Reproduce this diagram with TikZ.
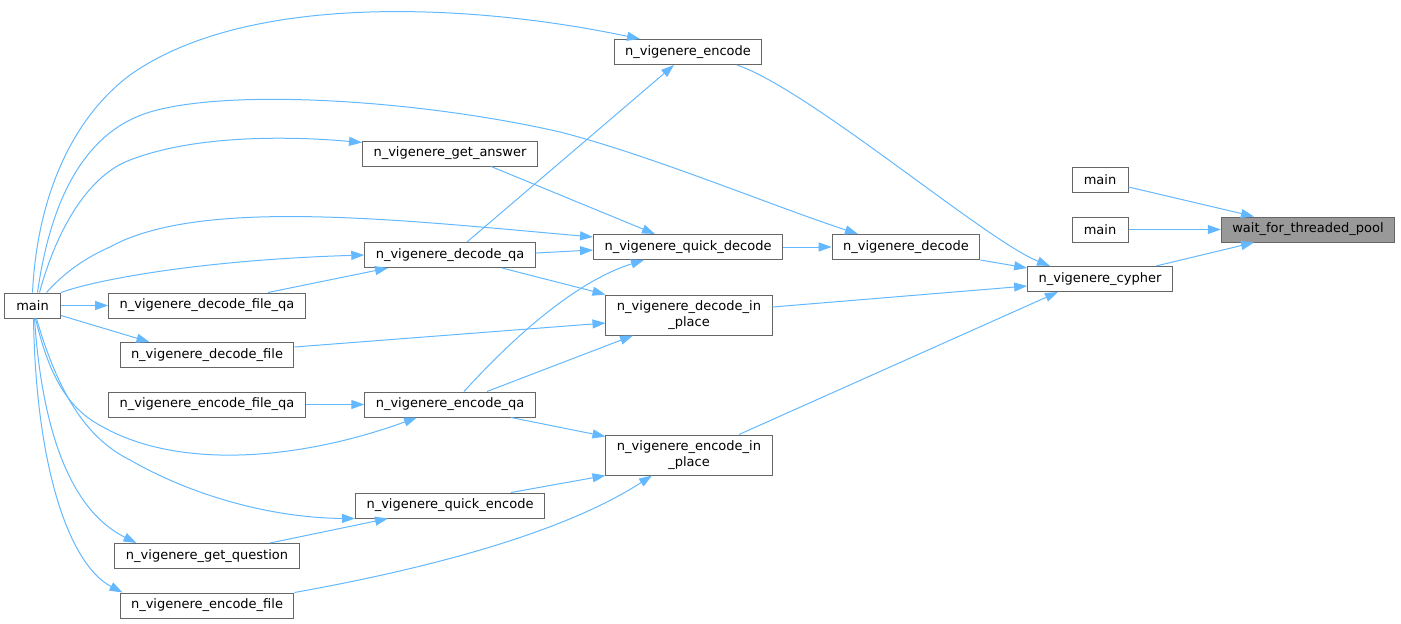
\documentclass[tikz,border=0pt]{standalone}
\usepackage{fontspec}
\setmainfont{DejaVu Sans}
\usetikzlibrary{arrows.meta}
\definecolor{edgeblue}{HTML}{63B8FF}
\definecolor{boxgray}{HTML}{666666}
\definecolor{fillgray}{HTML}{999999}
\begin{document}
\begin{tikzpicture}[x=1pt,y=-1pt]
  \tikzset{
  fn/.style={draw=boxgray,line width=1pt,fill=white,inner xsep=11pt,inner ysep=4pt,minimum height=25pt,minimum width=56pt,font=\fontsize{13}{16}\selectfont},
  fn2/.style={fn,align=center,minimum height=40pt},
  hl/.style={fn,fill=fillgray},
  call/.style={draw=edgeblue,line width=1pt,-{Triangle[length=13pt,width=9pt]}},
  }
  \useasboundingbox (0,0) rectangle (1401,624);
  % the functions
  \node[hl] (wait) at (1308,229.5) {wait\_for\_threaded\_pool};
  \node[fn] (mainA) at (1100,180) {main};
  \node[fn] (mainB) at (1100,229.5) {main};
  \node[fn] (cypher) at (1100,279) {n\_vigenere\_cypher};
  \node[fn] (decode) at (906,247) {n\_vigenere\_decode};
  \node[fn] (encode) at (688,52) {n\_vigenere\_encode};
  \node[fn] (qdec) at (688,247) {n\_vigenere\_quick\_decode};
  \node[fn2] (dip) at (689,315) {n\_vigenere\_decode\_in\\\_place};
  \node[fn2] (eip) at (689,455) {n\_vigenere\_encode\_in\\\_place};
  \node[fn] (ans) at (450,153.5) {n\_vigenere\_get\_answer};
  \node[fn] (dqa) at (450,255) {n\_vigenere\_decode\_qa};
  \node[fn] (eqa) at (450,404.5) {n\_vigenere\_encode\_qa};
  \node[fn] (qenc) at (450,505.5) {n\_vigenere\_quick\_encode};
  \node[fn] (mainL) at (32.5,305.5) {main};
  \node[fn] (dfqa) at (207,305.5) {n\_vigenere\_decode\_file\_qa};
  \node[fn] (dfile) at (207,355) {n\_vigenere\_decode\_file};
  \node[fn] (efqa) at (207,404.5) {n\_vigenere\_encode\_file\_qa};
  \node[fn] (ques) at (207,556) {n\_vigenere\_get\_question};
  \node[fn] (efile) at (207,605.5) {n\_vigenere\_encode\_file};

  % the calls on the right
  \draw[call] ([yshift=-7pt]mainA.east) -- ([xshift=-54pt]wait.north);
  \draw[call] (mainB) -- (wait);
  \draw[call] ([xshift=56pt]cypher.north) -- ([xshift=-54pt]wait.south);
  \draw[call] (decode.south east) -- ([yshift=11pt]cypher.west);
  \draw[call] ([xshift=49pt]encode.south) .. controls (810,90) and (985,240) .. ([xshift=-50pt]cypher.north);
  \draw[call] ([yshift=8pt]dip.east) -- ([yshift=-7pt]cypher.west);
  \draw[call] ([xshift=50pt]eip.north) -- ([xshift=-42pt]cypher.south);
  \draw[call] (qdec) -- (decode);

  % the calls in the middle
  \draw[call] ([xshift=41pt]ans.south) -- ([xshift=-33pt]qdec.north);
  \draw[call] ([yshift=2pt]dqa.east) -- ([yshift=-3pt]qdec.west);
  \draw[call] ([xshift=17pt]dqa.north) -- ([xshift=-14pt]encode.south);
  \draw[call] ([xshift=52pt]dqa.south) -- (dip.north west);
  \draw[call] ([xshift=61pt]dfqa.north) -- ([xshift=-62pt]dqa.south);
  \draw[call] ([yshift=8pt]dfile.east) -- ([yshift=-8pt]dip.west);
  \draw[call] ([xshift=37pt]eqa.north) -- ([xshift=-56pt]dip.south);
  \draw[call] ([xshift=14pt]eqa.north) .. controls (520,330) and (580,280) .. ([xshift=-44pt]qdec.south);
  \draw[call] (efqa) -- (eqa);
  \draw[call] ([xshift=61pt]eqa.south) -- ([yshift=-2pt]eip.north west);
  \draw[call] ([xshift=61pt]qenc.north) -- (eip.south west);
  \draw[call] ([xshift=63pt]ques.north) -- ([xshift=-62pt]qenc.south);
  \draw[call] (efile.north east) .. controls (420,570) and (560,535) .. ([xshift=-37pt]eip.south);

  % the calls from main
  \draw[call] (mainL.north) .. controls (37,200) and (70,120) .. (130,75)
    .. controls (250,-10) and (480,5) .. ([xshift=-48pt]encode.north);
  \draw[call] ([xshift=5pt]mainL.north) .. controls (52,190) and (90,130) .. (150,112)
    .. controls (230,88) and (420,100) .. (560,132)
    .. controls (650,155) and (770,205) .. ([xshift=-48pt]decode.north);
  \draw[call] ([xshift=7pt]mainL.north) .. controls (58,225) and (90,175) .. (130,160)
    .. controls (200,133) and (300,137) .. ([yshift=11pt]ans.west);
  \draw[call] ([xshift=14pt]mainL.north) .. controls (65,272) and (85,258) .. (110,247)
    .. controls (200,197) and (400,220) .. ([yshift=10pt]qdec.west);
  \draw[call] (mainL.north east) .. controls (95,280) and (200,260) .. (dqa.west);
  \draw[call] (mainL) -- (dfqa);
  \draw[call] ([yshift=-10pt]mainL.east) -- ([xshift=30pt]dfile.north west);
  \draw[call] ([xshift=3pt]mainL.south) .. controls (50,380) and (70,410) .. (103,427)
    .. controls (180,470) and (300,460) .. ([xshift=-33pt]eqa.south);
  \draw[call] ([xshift=4pt]mainL.south) .. controls (60,400) and (90,440) .. (130,460)
    .. controls (200,500) and (280,518) .. (qenc.south west);
  \draw[call] ([xshift=2pt]mainL.south) .. controls (42,430) and (70,510) .. ([xshift=22pt]ques.north west);
  \draw[call] ([xshift=1pt]mainL.south) .. controls (36,470) and (70,565) .. ([xshift=3pt]efile.north west);
\end{tikzpicture}
\end{document}
